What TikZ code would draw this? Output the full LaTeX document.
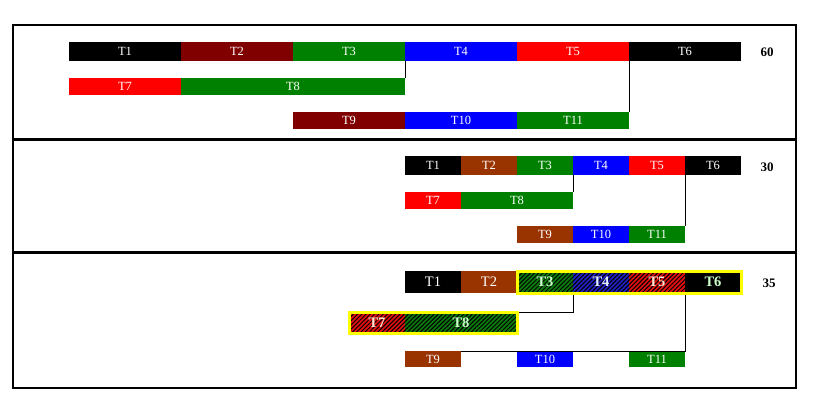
\documentclass[tikz,border=0pt]{standalone}
\usepackage{fontspec}
\setmainfont{Liberation Serif}
\usetikzlibrary{patterns.meta}
\definecolor{maroonT}{HTML}{800000}
\definecolor{brownT}{HTML}{993300}
\definecolor{greenT}{HTML}{008000}
\definecolor{blueT}{HTML}{0000FF}
\definecolor{redT}{HTML}{FF0000}
\definecolor{hgreen}{HTML}{0C7A0C}
\definecolor{hblue}{HTML}{2020C0}
\definecolor{hred}{HTML}{E01010}
\definecolor{txtgreen}{HTML}{CCFFCC}
\definecolor{txtred}{HTML}{FFE4D0}
\definecolor{txtblue}{HTML}{E0EEFF}
\definecolor{hilite}{HTML}{FFFF00}
\tikzset{
  bar/.style={anchor=north west, inner sep=0pt, outer sep=0pt, text=white},
  barA/.style={bar, minimum width=112pt, font=\fontsize{12.5}{12.5}\selectfont},
  barB/.style={bar, minimum width=56pt, font=\fontsize{12.5}{12.5}\selectfont},
  barC/.style={bar, minimum width=56pt, font=\fontsize{14.5}{14.5}\selectfont},
  hatch/.style={postaction={pattern={Lines[angle=45,distance=3pt,line width=1pt]}, pattern color=black}},
  hl/.style={font=\fontsize{14.5}{14.5}\selectfont\bfseries},
  link/.style={draw=black, line width=1pt},
  yellowbox/.style={draw=hilite, line width=3pt},
  score/.style={font=\fontsize{13}{13}\selectfont\bfseries, anchor=center}
}
\begin{document}
\begin{tikzpicture}[x=1pt, y=-1pt]
\useasboundingbox (0,0) rectangle (816,396);
% frames
\draw[line width=2pt] (13,25) rectangle (796,388);
\draw[line width=3pt] (13,139.5) -- (796,139.5);
\draw[line width=3pt] (13,252.5) -- (796,252.5);

% ---------- panel 1 ----------
\node[barA, minimum height=19pt, fill=black]   (a1) at (69,42)  {T1};
\node[barA, minimum height=19pt, fill=maroonT] (a2) at (181,42) {T2};
\node[barA, minimum height=19pt, fill=greenT]  (a3) at (293,42) {T3};
\node[barA, minimum height=19pt, fill=blueT]   (a4) at (405,42) {T4};
\node[barA, minimum height=19pt, fill=redT]    (a5) at (517,42) {T5};
\node[barA, minimum height=19pt, fill=black]   (a6) at (629,42) {T6};
\node[barA, minimum height=17pt, fill=redT]    (a7) at (69,78)  {T7};
\node[barA, minimum height=17pt, minimum width=224pt, fill=greenT] (a8) at (181,78) {T8};
\node[barA, minimum height=17pt, fill=maroonT] (a9)  at (293,112) {T9};
\node[barA, minimum height=17pt, fill=blueT]   (a10) at (405,112) {T10};
\node[barA, minimum height=17pt, fill=greenT]  (a11) at (517,112) {T11};
\draw[link] (a3.south east) -- (a8.north east);
\draw[link] (a5.south east) -- (a11.north east);
\node[score] (s1) at (767,52) {60};

% ---------- panel 2 ----------
\node[barB, minimum height=19pt, fill=black]  (b1) at (405,156) {T1};
\node[barB, minimum height=19pt, fill=brownT] (b2) at (461,156) {T2};
\node[barB, minimum height=19pt, fill=greenT] (b3) at (517,156) {T3};
\node[barB, minimum height=19pt, fill=blueT]  (b4) at (573,156) {T4};
\node[barB, minimum height=19pt, fill=redT]   (b5) at (629,156) {T5};
\node[barB, minimum height=19pt, fill=black]  (b6) at (685,156) {T6};
\node[barB, minimum height=17pt, fill=redT]   (b7) at (405,192) {T7};
\node[barB, minimum height=17pt, minimum width=112pt, fill=greenT] (b8) at (461,192) {T8};
\node[barB, minimum height=17pt, fill=brownT] (b9)  at (517,226) {T9};
\node[barB, minimum height=17pt, fill=blueT]  (b10) at (573,226) {T10};
\node[barB, minimum height=17pt, fill=greenT] (b11) at (629,226) {T11};
\draw[link] (b3.south east) -- (b8.north east);
\draw[link] (b5.south east) -- (b11.north east);
\node[score] (s2) at (767,167) {30};

% ---------- panel 3 ----------
\node[barC, minimum height=22pt, fill=black]  (c1) at (405,271) {T1};
\node[barC, minimum height=22pt, fill=brownT] (c2) at (461,271) {T2};
\node[barC, hl, minimum height=22pt, fill=hgreen, hatch, text=txtgreen] (c3) at (517,271) {T3};
\node[barC, hl, minimum height=22pt, fill=hblue, hatch, text=txtblue]   (c4) at (573,271) {T4};
\node[barC, hl, minimum height=22pt, fill=hred, hatch, text=txtred]     (c5) at (629,271) {T5};
\node[barC, hl, minimum height=22pt, fill=black, text=txtgreen]         (c6) at (685,271) {T6};
\node[barC, hl, minimum height=21pt, fill=hred, hatch, text=txtred]     (c7) at (349,312) {T7};
\node[barC, hl, minimum height=21pt, minimum width=112pt, fill=hgreen, hatch, text=txtgreen] (c8) at (405,312) {T8};
\node[barB, minimum height=16pt, fill=brownT] (c9)  at (405,351) {T9};
\node[barB, minimum height=16pt, fill=blueT]  (c10) at (517,351) {T10};
\node[barB, minimum height=16pt, fill=greenT] (c11) at (629,351) {T11};
\draw[link] (c3.south east) |- (c8.north east);
\draw[link] (c5.south east) |- (c9.north east);
\draw[yellowbox] (c3.north west) rectangle (c6.south east);
\draw[yellowbox] (c7.north west) rectangle (c8.south east);
\node[score] (s3) at (769,283) {35};
\end{tikzpicture}
\end{document}
